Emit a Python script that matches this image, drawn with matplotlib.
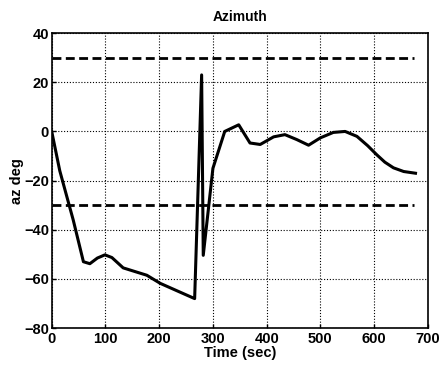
import numpy as np
import matplotlib.pyplot as plt

plt.rcParams['font.family'] = ['Liberation Sans', 'DejaVu Sans']
plt.rcParams['font.weight'] = 'bold'

# Azimuth trace
t = [0, 15, 40, 59, 71, 85, 99, 112, 133, 155, 177, 202, 235, 266,
     279, 282, 300, 322, 348, 369, 388, 413, 434, 456, 478, 500, 524,
     546, 568, 588, 605, 620, 636, 655, 677]
az = [0, -16, -36, -53, -53.8, -51.5, -50.2, -51.3, -55.5, -57, -58.5, -61.8, -65, -68,
      23, -50.4, -15, 0, 2.7, -4.7, -5.3, -2.2, -1.3, -3.3, -5.6, -2.6, -0.4,
      0, -2, -5.8, -9.5, -12.5, -14.8, -16.3, -17]

# limit lines
limit_t = [0, 675]
upper = [30, 30]
lower = [-30, -30]

fig = plt.figure(figsize=(4.42, 3.72), dpi=100)
ax = fig.add_axes([0.117, 0.118, 0.851, 0.793])

ax.plot(t, az, color='black', linewidth=2.2, solid_joinstyle='round')
ax.plot(limit_t, upper, color='black', linewidth=2, linestyle=(0, (3.2, 1.6)))
ax.plot(limit_t, lower, color='black', linewidth=2, linestyle=(0, (3.2, 1.6)))

ax.set_xlim(0, 700)
ax.set_ylim(-80, 40)
ax.set_xticks(np.arange(0, 701, 100))
ax.set_yticks(np.arange(-80, 41, 20))
ax.grid(True, color='black', linestyle=(0, (1, 1.6)), linewidth=0.8)
ax.tick_params(direction='in', length=3, labelsize=10.5, width=1)
ax.tick_params(axis='x', pad=3)
ax.tick_params(axis='y', pad=2)
for s in ax.spines.values():
    s.set_linewidth(1.2)

ax.set_title('Azimuth', fontsize=10, fontweight='bold', pad=9)
ax.set_xlabel('Time (sec)', fontsize=10.5, fontweight='bold', labelpad=0)
ax.set_ylabel('az deg', fontsize=10.5, fontweight='bold', labelpad=0)

fig.savefig('out.png', dpi=100)
